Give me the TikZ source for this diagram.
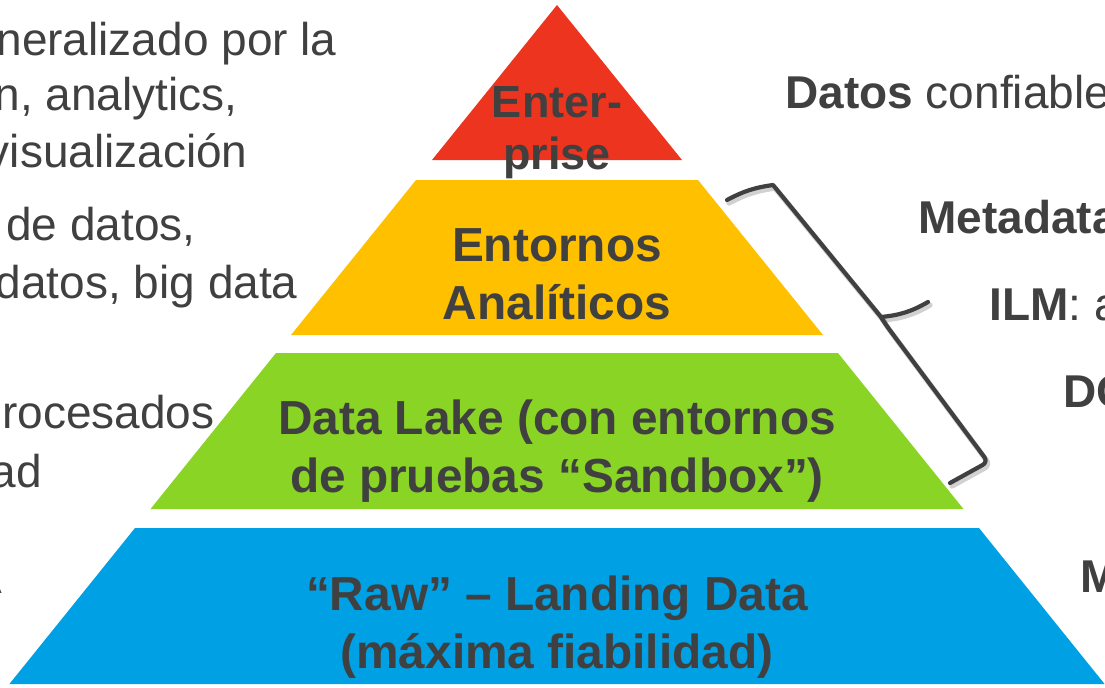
\documentclass[tikz,border=0pt]{standalone}
\usepackage{fontspec}
\setmainfont{Liberation Sans}
\definecolor{pyred}{RGB}{237,52,30}
\definecolor{pyyellow}{RGB}{255,192,0}
\definecolor{pygreen}{RGB}{137,212,37}
\definecolor{pyblue}{RGB}{0,160,228}
\definecolor{txtgray}{RGB}{64,64,64}

\begin{document}
\begin{tikzpicture}[x=0.5pt,y=0.5pt]
\tikzstyle{every node}+=[inner sep=0pt, text=txtgray]
\tikzstyle{lvl}=[align=center, anchor=base, font=\fontsize{23.9}{28.7}\selectfont\bfseries]
\tikzstyle{side}=[font=\fontsize{23}{28}\selectfont]
\tikzstyle{brace}=[draw=txtgray, line width=2.1pt, line cap=round, line join=round]
\useasboundingbox (0,0) rectangle (1105,-687);
\clip (0,0) rectangle (1105,-687);
% pyramid levels
\fill [pyred] (557,-5) -- (432,-160) -- (682,-160) -- cycle;
\fill [pyyellow] (416,-180) -- (698,-180) -- (823,-335) -- (291,-335) -- cycle;
\fill [pygreen] (276,-353) -- (838,-353) -- (963.5,-509) -- (150.5,-509) -- cycle;
\fill [pyblue] (135,-528) -- (979,-528) -- (1104.6,-684) -- (9.4,-684) -- cycle;
\node [lvl, font=\fontsize{22.5}{26}\selectfont\bfseries] (ent) at (557,-169) {Enter-\\prise};
\node [lvl] (ana) at (557,-319) {Entornos\\Analíticos};
\node [lvl] (lake) at (557,-492) {Data Lake (con entornos\\de pruebas “Sandbox”)};
\node [lvl] (raw) at (557,-668) {“Raw” – Landing Data\\(máxima fiabilidad)};
% left texts
\node [side, anchor=base east] (gen1) at (337,-55) {neralizado por la};
\node [side, anchor=base east] (gen2) at (238,-110) {n, analytics,};
\node [side, anchor=base east] (gen3) at (248,-167) {visualización};
\node [side, anchor=base east] (alm1) at (196,-240) {de datos,};
\node [side, anchor=base east] (alm2) at (298,-298) {datos, big data};
\node [side, anchor=base east] (pro1) at (215,-428) {rocesados};
\node [side, anchor=base east] (pro2) at (42,-487) {ad};
\node [side, anchor=base east] (raw1) at (3,-593) {A};
% right texts
\node [side, anchor=base west] (conf) at (785,-108) {\textbf{Datos} confiable};
\node [side, anchor=base west] (meta) at (918,-233) {\textbf{Metadata}};
\node [side, anchor=base west] (ilm) at (989,-320) {\textbf{ILM}: a};
\node [side, anchor=base west] (dq) at (1063,-407) {\textbf{DQ}};
\node [side, anchor=base west] (mm) at (1080,-592) {\textbf{M}};
% brace
\coordinate (bA) at (727,-200);
\coordinate (bB) at (773,-185);
\coordinate (bJ) at (881,-317);
\coordinate (bT) at (928,-302);
\coordinate (bK) at (886,-325);
\coordinate (bC) at (988,-462);
\coordinate (bE) at (950,-483);
\begin{scope}[transform canvas={xshift=1pt,yshift=-1.5pt}]
\draw [brace, draw=black, opacity=0.18, line width=2.7pt] (bA) to[bend left=10] (bB) -- (bJ) to[bend right=12] (bT);
\draw [brace, draw=black, opacity=0.18, line width=2.7pt, rounded corners=3pt] (bJ) -- (bK) -- (bC) -- (bE);
\end{scope}
\draw [brace] (bA) to[bend left=10] (bB) -- (bJ) to[bend right=12] (bT);
\draw [brace, rounded corners=3pt] (bJ) -- (bK) -- (bC) -- (bE);
\end{tikzpicture}
\end{document}
